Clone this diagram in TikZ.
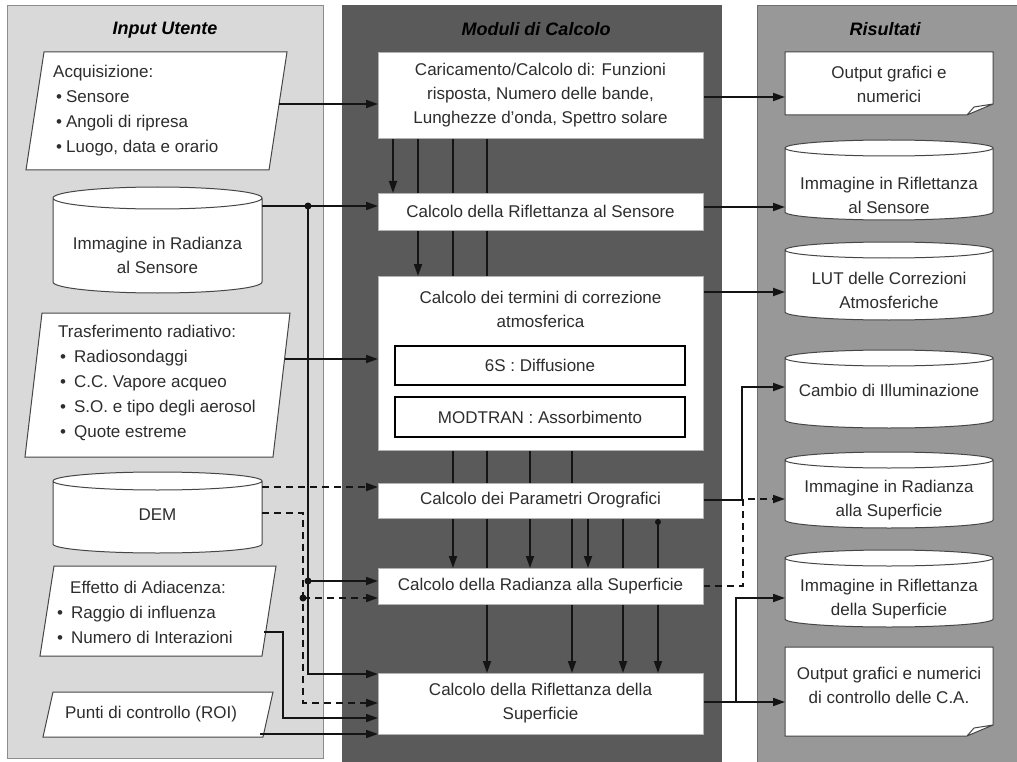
\documentclass[tikz,border=0pt]{standalone}
\usepackage{fontspec}
\setmainfont{Liberation Sans}
\usetikzlibrary{arrows.meta,calc}
\pgfdeclarelayer{bg}
\pgfdeclarelayer{mid}
\pgfsetlayers{bg,mid,main}
\definecolor{lp}{RGB}{217,217,217}
\definecolor{lpb}{RGB}{140,140,140}
\definecolor{mp}{RGB}{90,90,90}
\definecolor{rp}{RGB}{152,152,152}
\definecolor{rpb}{RGB}{110,110,110}
\definecolor{tx}{RGB}{45,45,45}
\definecolor{ln}{RGB}{20,20,20}
\definecolor{sl}{RGB}{70,70,70}
\tikzset{
 frame/.style={shape=rectangle, inner sep=0pt, outer sep=0pt, draw=none, anchor=north west},
 txt/.style={font=\fontsize{17}{24}\selectfont, text=tx, inner sep=0pt, align=center},
 ltxt/.style={font=\fontsize{17}{25}\selectfont, text=tx, inner sep=0pt, align=left, anchor=west},
 ttl/.style={font=\fontsize{18}{22}\selectfont\bfseries\itshape, text=black, inner sep=0pt},
 mbox/.style={frame, draw=gray!60, line width=0.8pt, fill=white, minimum width=325pt, font=\fontsize{17}{24}\selectfont, text=tx, align=center},
 ibox/.style={frame, draw=black, line width=2.2pt, fill=white, minimum width=290pt, font=\fontsize{17}{24}\selectfont, text=tx},
 shp/.style={draw=sl, line width=1pt, fill=white},
 conn/.style={draw=ln, line width=1.8pt},
 arr/.style={conn, -{Triangle[length=12pt,width=8pt]}},
 dsh/.style={dash pattern=on 7pt off 5pt},
 dot/.style={fill=ln},
}
\newcommand\cylshape[2]{%
 \begin{pgfonlayer}{mid}
 \draw[shp] let \p1=(#1.north west), \p2=(#1.south east), \n1={(\x2-\x1)/2} in
   (\x1,\y1-#2pt) -- (\x1,\y2+#2pt) arc[start angle=180,end angle=360,x radius=\n1,y radius=#2pt]
   -- (\x2,\y1-#2pt) arc[start angle=0,end angle=180,x radius=\n1,y radius=#2pt] -- cycle
   (\x1,\y1-#2pt) arc[start angle=180,end angle=360,x radius=\n1,y radius=#2pt];
 \end{pgfonlayer}}
\newcommand\docshape[1]{%
 \begin{pgfonlayer}{mid}
 \draw[shp] let \p1=(#1.north west), \p2=(#1.south east) in
  (\x1,\y1) -- (\x2,\y1) -- (\x2,\y2+11pt) -- (\x2-26pt,\y2) -- (\x1,\y2) -- cycle
  (\x2-26pt,\y2) -- (\x2-19pt,\y2+8pt) -- (\x2,\y2+11pt);
 \end{pgfonlayer}}
\newcommand\parashape[2]{%
 \begin{pgfonlayer}{mid}
 \draw[shp] let \p1=(#1.north west), \p2=(#1.south east) in
  (\x1+#2pt,\y1) -- (\x2,\y1) -- (\x2-#2pt,\y2) -- (\x1,\y2) -- cycle;
 \end{pgfonlayer}}
\begin{document}
\begin{tikzpicture}[x=1pt,y=-1pt]
\useasboundingbox (0,0) rectangle (1017,762);
\begin{pgfonlayer}{bg}
\fill[white] (0,0) rectangle (1017,762);
\filldraw[fill=lp, draw=lpb, line width=0.8pt] (7,5) rectangle (323,758);
\fill[mp] (342,5) rectangle (722,764);
\filldraw[fill=rp, draw=rpb, line width=0.8pt] (757,5) rectangle (1022,767);
\end{pgfonlayer}

% titles
\node[ttl] (t1) at (165,30) {Input Utente};
\node[ttl] (t2) at (536,29) {Moduli di Calcolo};
\node[ttl] (t3) at (885,29) {Risultati};

% left frames
\node[frame, minimum width=261pt, minimum height=118pt] (acq) at (26,52) {};
\node[frame, minimum width=209pt, minimum height=106pt] (imgrad) at (53,187) {};
\node[frame, minimum width=265pt, minimum height=144pt] (trasf) at (25,313) {};
\node[frame, minimum width=209pt, minimum height=81pt] (dem) at (53,472) {};
\node[frame, minimum width=236pt, minimum height=90pt] (eff) at (40,566) {};
\node[frame, minimum width=230pt, minimum height=45pt] (punti) at (43,692) {};
\parashape{acq}{18}
\cylshape{imgrad}{11}
\parashape{trasf}{17}
\cylshape{dem}{9}
\parashape{eff}{14}
\parashape{punti}{10}

% right frames
\node[frame, minimum width=208pt, minimum height=63pt] (out1) at (785,52) {};
\node[frame, minimum width=208pt, minimum height=80pt] (rifsens) at (785,140) {};
\node[frame, minimum width=208pt, minimum height=78pt] (lut) at (785,242) {};
\node[frame, minimum width=208pt, minimum height=78pt] (cambio) at (785,350) {};
\node[frame, minimum width=208pt, minimum height=76pt] (radsup) at (785,452) {};
\node[frame, minimum width=208pt, minimum height=77pt] (rifsup) at (785,550) {};
\node[frame, minimum width=208pt, minimum height=89pt] (out2) at (785,647) {};
\docshape{out1}
\cylshape{rifsens}{8}
\cylshape{lut}{8}
\cylshape{cambio}{8}
\cylshape{radsup}{8}
\cylshape{rifsup}{8}
\docshape{out2}

% left texts
\node[ltxt] (acq-t) at (53,111) {Acquisizione:\\\hspace*{3pt}\textbullet\hspace{4pt}Sensore\\\hspace*{3pt}\textbullet\hspace{4pt}Angoli di ripresa\\\hspace*{3pt}\textbullet\hspace{4pt}Luogo, data e orario};
\node[txt] (imgrad-t) at (157.5,255) {Immagine in  Radianza\\al Sensore};
\node[ltxt] (trasf-t) at (58,383) {Trasferimento radiativo:\\\hspace*{2pt}\textbullet\hspace{8pt}Radiosondaggi\\\hspace*{2pt}\textbullet\hspace{8pt}C.C. Vapore acqueo\\\hspace*{2pt}\textbullet\hspace{8pt}S.O. e tipo degli aerosol\\\hspace*{2pt}\textbullet\hspace{8pt}Quote estreme};
\node[txt] (dem-t) at (157.5,515) {DEM};
\node[ltxt] (eff-t) at (57,612) {\hspace*{13pt}Effetto di Adiacenza:\\\textbullet\hspace{8pt}Raggio di influenza\\\textbullet\hspace{8pt}Numero di Interazioni};
\node[txt] (punti-t) at (151,714) {Punti di controllo (ROI)};

% right texts
\node[txt] (out1-t) at (889,84) {Output grafici e\\numerici};
\node[txt] (rifsens-t) at (889,195) {Immagine in Riflettanza\\al Sensore};
\node[txt] (lut-t) at (889,290) {LUT delle Correzioni\\Atmosferiche};
\node[txt] (cambio-t) at (889,390) {Cambio di Illuminazione};
\node[txt] (radsup-t) at (889,500) {Immagine in Radianza\\alla Superficie};
\node[txt] (rifsup-t) at (889,599) {Immagine in Riflettanza\\della Superficie};
\node[txt] (out2-t) at (889,685) {Output grafici e numerici\\di controllo delle C.A.};

% middle boxes
\node[mbox, minimum height=86pt] (A) at (378,52) {Caricamento/Calcolo di: Funzioni\\risposta, Numero delle bande,\\Lunghezze d'onda, Spettro solare};
\node[mbox, minimum height=37pt] (B) at (378,193) {Calcolo della Riflettanza al Sensore};
\node[mbox, minimum height=174pt] (C) at (378,276) {};
\node[txt] (C-t) at (540.5,309) {Calcolo dei termini di correzione\\atmosferica};
\node[ibox, minimum height=39pt] (S6) at (395,346) {6S : Diffusione};
\node[ibox, minimum height=40pt] (MOD) at (395,397) {MODTRAN : Assorbimento};
\node[mbox, minimum height=35pt] (D) at (378,483) {Calcolo dei Parametri Orografici};
\node[mbox, minimum height=36pt] (E) at (378,568) {Calcolo della Radianza alla Superficie};
\node[mbox, minimum height=61pt] (F) at (378,673) {Calcolo della Riflettanza della\\Superficie};

\begin{pgfonlayer}{mid}
% left connectors
\coordinate (acqo) at (279,104);
\draw[arr] (acqo) -- (acqo -| A.west);
\coordinate (j1) at (308,206);
\coordinate (j2) at (308,581);
\coordinate (yF1) at (0,674);
\draw[arr] (imgrad.east |- j1) -- (j1 -| B.west);
\draw[arr] (j1) |- (F.west |- yF1);
\draw[arr] (j2) -- (j2 -| E.west);
\coordinate (tro) at (285,359);
\draw[arr] (tro) -- (tro -| C.west);
\coordinate (d1) at (0,487);
\draw[arr,dsh] (dem.east |- d1) -- (D.west |- d1);
\coordinate (k1) at (303,513);
\coordinate (k2) at (303,598);
\coordinate (yF2) at (0,703);
\draw[arr,dsh] (dem.east |- k1) -- (k1) |- (F.west |- yF2);
\draw[arr,dsh] (k2) -- (k2 -| E.west);
\coordinate (effo) at (264,632);
\coordinate (e1) at (283,632);
\coordinate (yF3) at (0,718);
\draw[arr] (effo) -- (e1) |- (F.west |- yF3);
\coordinate (puno) at (260,734);
\draw[arr] (puno) -- (puno -| F.west);
\fill[dot] (j1) circle[radius=3.5pt];
\fill[dot] (j2) circle[radius=3.5pt];
\fill[dot] (k2) circle[radius=3.5pt];
% middle connectors
\draw[arr] ($(A.south west)+(15,0)$) -- ($(B.north west)+(15,0)$);
\draw[arr] ($(A.south west)+(40,0)$) -- ($(C.north west)+(40,0)$);
\draw[arr] ($(A.south west)+(75,0)$) -- ($(E.north west)+(75,0)$);
\draw[arr] ($(A.south west)+(109,0)$) -- ($(F.north west)+(109,0)$);
\draw[arr] ($(C.south west)+(152,0)$) -- ($(E.north west)+(152,0)$);
\draw[arr] ($(C.south west)+(194,0)$) -- ($(F.north west)+(194,0)$);
\draw[arr] ($(D.south west)+(210,0)$) -- ($(E.north west)+(210,0)$);
\draw[arr] ($(D.south west)+(245,0)$) -- ($(F.north west)+(245,0)$);
\draw[arr] ($(D.south west)+(280,0)$) -- ($(F.north west)+(280,0)$);
\fill[dot] ($(D.south west)+(280,4)$) circle[radius=3pt];
% right connectors
\coordinate (r1) at (0,97);
\draw[arr] (A.east |- r1) -- (out1.west |- r1);
\coordinate (r2) at (0,207);
\draw[arr] (B.east |- r2) -- (rifsens.west |- r2);
\coordinate (r3) at (0,292);
\draw[arr] (C.east |- r3) -- (lut.west |- r3);
\coordinate (m1) at (742,387);
\coordinate (r4) at (0,500);
\draw[arr] (D.east |- r4) -| (m1) -- (m1 -| cambio.west);
\coordinate (m2) at (743,499);
\coordinate (r5) at (0,586);
\draw[arr,dsh] (E.east |- r5) -| (m2) -- (m2 -| radsup.west);
\coordinate (n1) at (736,702);
\coordinate (n2) at (736,598);
\draw[arr] (F.east |- n1) -- (out2.west |- n1);
\draw[arr] (n1) -- (n2) -- (n2 -| rifsup.west);
\end{pgfonlayer}
\end{tikzpicture}
\end{document}
